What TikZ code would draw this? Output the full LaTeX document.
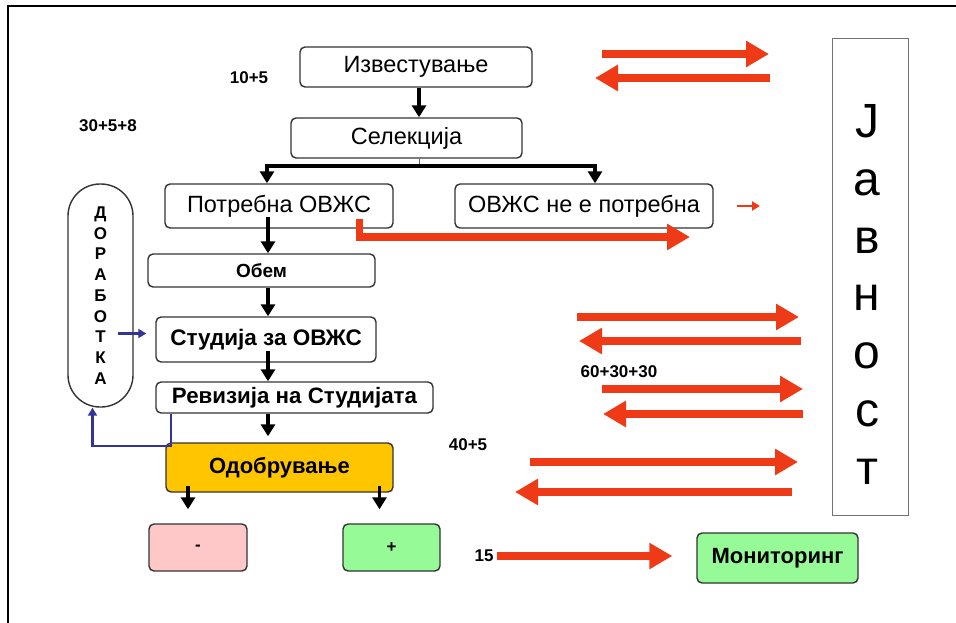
\documentclass[tikz,border=0pt]{standalone}
\usepackage{fontspec}
\setmainfont{Liberation Sans}
\usetikzlibrary{calc}
\usetikzlibrary{positioning}
\usetikzlibrary {arrows.meta}

\definecolor{pubred}{RGB}{238,58,22}
\definecolor{backblue}{RGB}{52,52,150}
\definecolor{apprgold}{RGB}{255,198,0}
\definecolor{nopink}{RGB}{255,200,200}
\definecolor{yesgreen}{RGB}{150,250,150}

\begin{document}
\begin{tikzpicture}[x=1pt, y=-1pt,
    procbox/.style={draw=black!80, line width=1.4pt, rounded corners=5pt, fill=white, inner sep=0pt},
    flowarrow/.style={line width=3.2pt, -{Triangle[length=12pt, width=14pt]}},
    redarrow/.style={draw=pubred, line width=7.5pt, -{Triangle[length=23pt, width=25pt]}},
    bluearrow/.style={draw=backblue, line width=2.2pt, -{Triangle[length=8pt, width=9pt]}},
    dayslabel/.style={font=\bfseries\fontsize{17}{20}\selectfont, inner sep=0pt}
]
    \useasboundingbox (0,0) rectangle (956,623);
    % Frame
    \draw [line width=2pt] (8,623) -- (8,6) -- (956,6);

    % Main flow
    % - [Boxes]
    \node at (416, 67) [procbox, minimum width=232, minimum height=40, font=\fontsize{23.5}{27}\selectfont] (izv) {Известување};
    \node at (406.5, 138) [procbox, minimum width=231, minimum height=40, font=\fontsize{23.5}{27}\selectfont] (sel) {Селекција};
    \node at (279, 206) [procbox, minimum width=228, minimum height=44, font=\fontsize{23.5}{27}\selectfont] (potr) {Потребна ОВЖС};
    \node at (584, 206) [procbox, minimum width=258, minimum height=44, font=\fontsize{23.5}{27}\selectfont] (nepotr) {ОВЖС не е потребна};
    \node at (261.5, 270.5) [procbox, minimum width=227, minimum height=33, font=\bfseries\fontsize{19}{22}\selectfont] (obem) {Обем};
    \node at (266, 339.5) [procbox, minimum width=220, minimum height=45, font=\bfseries\fontsize{22.5}{26}\selectfont] (stud) {Студија за ОВЖС};
    \node at (294.5, 397.5) [procbox, minimum width=277, minimum height=31, font=\bfseries\fontsize{22.3}{26}\selectfont] (rev) {Ревизија на Студијата};
    \node at (279.5, 467.5) [procbox, fill=apprgold, minimum width=227, minimum height=49, font=\bfseries\fontsize{22}{26}\selectfont] (odob) {Одобрување};
    \node at (198, 547.5) [procbox, fill=nopink, minimum width=98, minimum height=47, font=\bfseries\fontsize{17}{20}\selectfont] (minus) {-};
    \node at (391.5, 547.5) [procbox, fill=yesgreen, minimum width=97, minimum height=47, font=\bfseries\fontsize{17}{20}\selectfont] (plus) {+};
    \node at (777.5, 558) [procbox, fill=yesgreen, minimum width=161, minimum height=50, font=\bfseries\fontsize{22}{26}\selectfont] (monit) {Мониторинг};
    % - [Rework pill]
    \node at (100.5, 295.5) [procbox, rounded corners=32pt, minimum width=65, minimum height=223, align=center,
        font=\bfseries\fontsize{17}{20.7}\selectfont] (dorab) {Д\\О\\Р\\А\\Б\\О\\Т\\К\\А};
    % - [Public box]
    \node at (870, 277) [draw=black!55, line width=1pt, minimum width=76, minimum height=476] (javnost) {};
    \node at (867, 294.3) [inner sep=0pt, align=center, font=\fontsize{48}{57.8}\selectfont] (javtext) {J\\а\\в\\н\\о\\с\\т};

    % - [Day counts]
    \node at (249, 78) [dayslabel] (d1) {10+5};
    \node at (108, 126) [dayslabel] (d2) {30+5+8};
    \node at (619, 372) [dayslabel] (d3) {60+30+30};
    \node at (468, 445) [dayslabel] (d4) {40+5};
    \node at (484, 556) [dayslabel] (d5) {15};

    % Black arrows
    \coordinate (spine) at (268, 0);
    \coordinate (split) at (419, 166);
    \draw [flowarrow] (izv.south -| split) -- (sel.north -| split);
    \draw [line width=1pt, black!60] (sel.south -| split) -- (split);
    \draw [flowarrow] (split) -| ([xshift=-12pt]potr.north);
    \draw [flowarrow] (split) -| ([xshift=11pt]nepotr.north);
    \draw [flowarrow] ([yshift=12pt]potr.south -| spine) -- (obem.north -| spine);
    \draw [flowarrow] (obem.south -| spine) -- (stud.north -| spine);
    \draw [flowarrow] ([yshift=12pt]stud.south -| spine) -- (rev.north -| spine);
    \draw [flowarrow] (rev.south -| spine) -- ([yshift=6pt]odob.north -| spine);
    \draw [flowarrow] ([xshift=-10pt, yshift=7pt]minus.north |- odob.south) -- ([xshift=-10pt, yshift=14pt]minus.north);
    \draw [flowarrow] ([xshift=-12pt, yshift=7pt]plus.north |- odob.south) -- ([xshift=-12pt, yshift=14pt]plus.north);

    % Blue rework arrows
    \draw [bluearrow] ([xshift=-16pt, yshift=6pt]dorab.east |- stud.west) -- ([xshift=-9pt, yshift=6pt]stud.west);
    \draw [bluearrow] ([xshift=16pt]rev.south west) -- ++(0, 32) -| ([xshift=-8pt]dorab.south);

    % Red arrows to and from the public
    \coordinate (potrOut) at (690, 237);
    \draw [redarrow, rounded corners=0pt] ([xshift=-34pt, yshift=10pt]potr.south east) |- (potrOut);
    \coordinate (smallA) at (737, 206);
    \coordinate (smallB) at (760, 206);
    \draw [draw=pubred, line width=2.5pt, -{Triangle[length=8pt, width=9pt]}] (smallA) -- (smallB);
    \foreach \i/\xa/\xb/\y in {1/602/769/54, 2/770/595/78, 3/577/799/317, 4/801/579/341,
                               5/602/803/389, 6/803/603/414, 7/530/798/462, 8/792/515/492} {
        \coordinate (ra\i) at (\xa, \y);
        \coordinate (rb\i) at (\xb, \y);
        \draw [redarrow] (ra\i) -- (rb\i);
    }
    \draw [redarrow] ([xshift=3pt]d5.east) -- ([xshift=-24pt]monit.west |- d5.east);

\end{tikzpicture}
\end{document}
